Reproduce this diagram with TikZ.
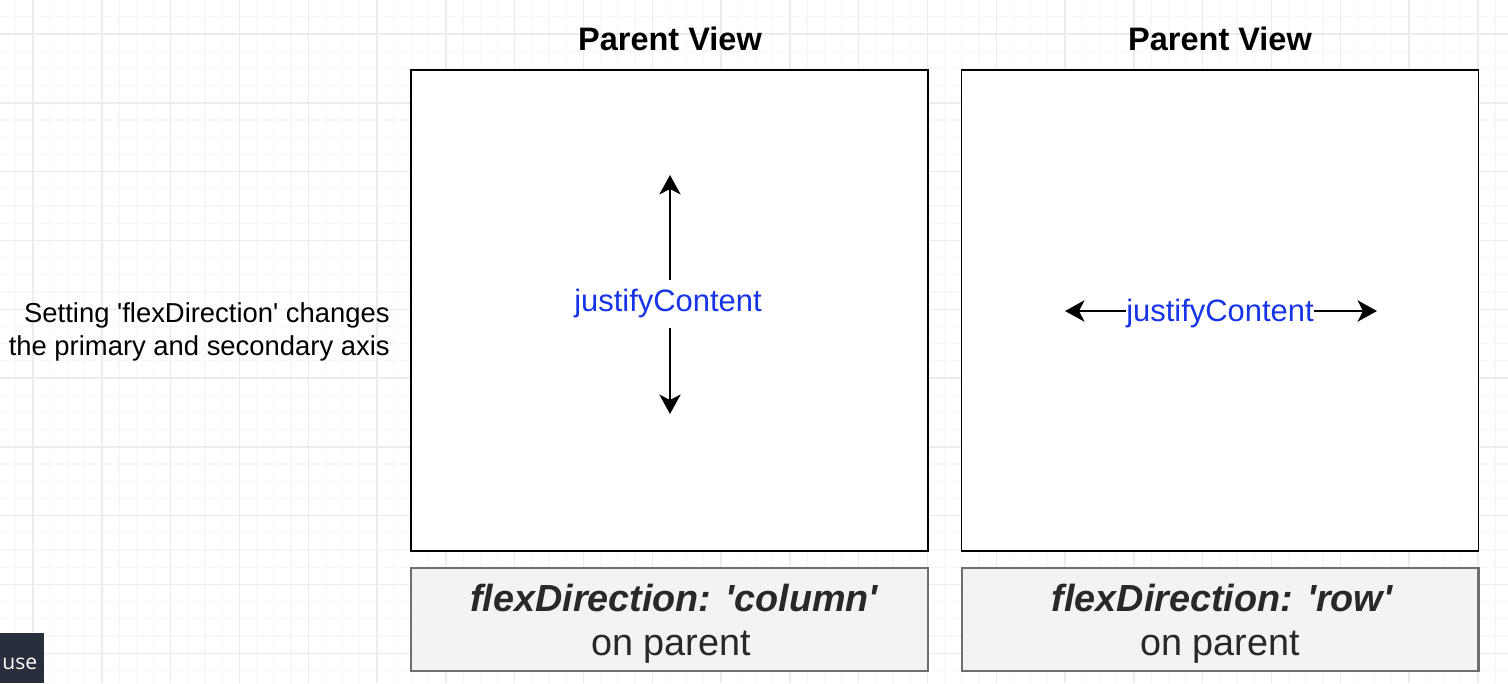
\documentclass[tikz,border=0pt]{standalone}
\usepackage{fontspec}
\setmainfont{Liberation Sans}
\newfontfamily\uifont{Open Sans}
\usetikzlibrary{arrows.meta,positioning}
\definecolor{minorline}{RGB}{247,247,247}
\definecolor{majorline}{RGB}{236,236,236}
\definecolor{jcblue}{RGB}{22,52,232}
\definecolor{labelfill}{RGB}{243,243,243}
\definecolor{labeledge}{RGB}{110,110,110}
\definecolor{labeltext}{RGB}{40,40,40}
\definecolor{usebg}{RGB}{40,46,60}
\newcommand{\sq}{\textquotesingle}
\tikzset{
    parentbox/.style={draw=black, line width=1pt, fill=white, minimum width=10.34cm, minimum height=9.62cm, inner sep=0pt},
    labelbox/.style={draw=labeledge, line width=1.2pt, fill=labelfill, minimum width=10.34cm, minimum height=2.06cm, inner sep=0pt},
    titletext/.style={font=\bfseries\fontsize{18.5}{22}\selectfont, anchor=base},
    jctext/.style={text=jcblue, font=\fontsize{17.6}{21}\selectfont},
    notetext/.style={font=\fontsize{15.6}{19}\selectfont, anchor=base east, inner sep=0pt},
    dirtext/.style={text=labeltext, font=\bfseries\itshape\fontsize{21.5}{25}\selectfont, anchor=base, inner sep=0pt},
    ontext/.style={text=labeltext, font=\fontsize{21.5}{25}\selectfont, anchor=base, inner sep=0pt},
    flexarrow/.style={-{Stealth[length=11pt, width=12pt, inset=3pt]}, line width=1.6pt}
}

\begin{document}
\begin{tikzpicture}[x=0.02cm, y=-0.02cm]
    \useasboundingbox (0,0) rectangle (1508,683);
    \fill[white] (0,0) rectangle (1508,683);
    % background grid
    \foreach \i in {0,...,88} {
        \draw[minorline, line width=0.6pt] ({-1.4+17.2*\i},0) -- ++(0,683);
    }
    \foreach \i in {0,...,40} {
        \draw[minorline, line width=0.6pt] (0,{-0.4+17.2*\i}) -- ++(1508,0);
    }
    \foreach \i in {0,...,21} {
        \draw[majorline, line width=0.8pt] ({33+68.8*\i},0) -- ++(0,683);
    }
    \foreach \i in {0,...,9} {
        \draw[majorline, line width=0.8pt] (0,{34+68.8*\i}) -- ++(1508,0);
    }

    % note on the left
    \node[notetext] (note1) at (390,322) {Setting \sq flexDirection\sq\ changes};
    \node[notetext] (note2) at (390,355) {the primary and secondary axis};

    % column view
    \node[parentbox] (colview) at (669.5,310.5) {};
    \node[titletext] (coltitle) at (670,50) {Parent View};
    \node[jctext, inner ysep=5pt] (jccol) at (668,304) {justifyContent};
    \coordinate (coltop) at (670,175);
    \coordinate (colbottom) at (670,414);
    \draw[flexarrow] (jccol.north -| coltop) -- (coltop);
    \draw[flexarrow] (jccol.south -| colbottom) -- (colbottom);
    \node[labelbox] (collabel) at (669.5,619.5) {};
    \node[dirtext] (coldir) at (674,611) {flexDirection: \sq column\sq};
    \node[ontext] (colon) at (671,655) {on parent};

    % row view
    \node[parentbox] (rowview) at (1220,310.5) {};
    \node[titletext] (rowtitle) at (1220,50) {Parent View};
    \node[jctext, inner xsep=0pt] (jcrow) at (1220,313) {justifyContent};
    \coordinate (rowleft) at (1065,311);
    \coordinate (rowright) at (1377,311);
    \draw[flexarrow] (jcrow.west |- rowleft) -- (rowleft);
    \draw[flexarrow] (jcrow.east |- rowright) -- (rowright);
    \node[labelbox] (rowlabel) at (1220,619.5) {};
    \node[dirtext] (rowdir) at (1222,611) {flexDirection: \sq row\sq};
    \node[ontext] (rowon) at (1220,655) {on parent};

    % corner button
    \node[fill=usebg, minimum width=0.88cm, minimum height=1cm, anchor=south west, inner sep=0pt] (usebox) at (0,683) {};
    \node[text=white, font=\uifont\fontsize{12}{14}\selectfont, anchor=base west, inner sep=0pt] (usetext) at (2,669) {use};
\end{tikzpicture}
\end{document}
